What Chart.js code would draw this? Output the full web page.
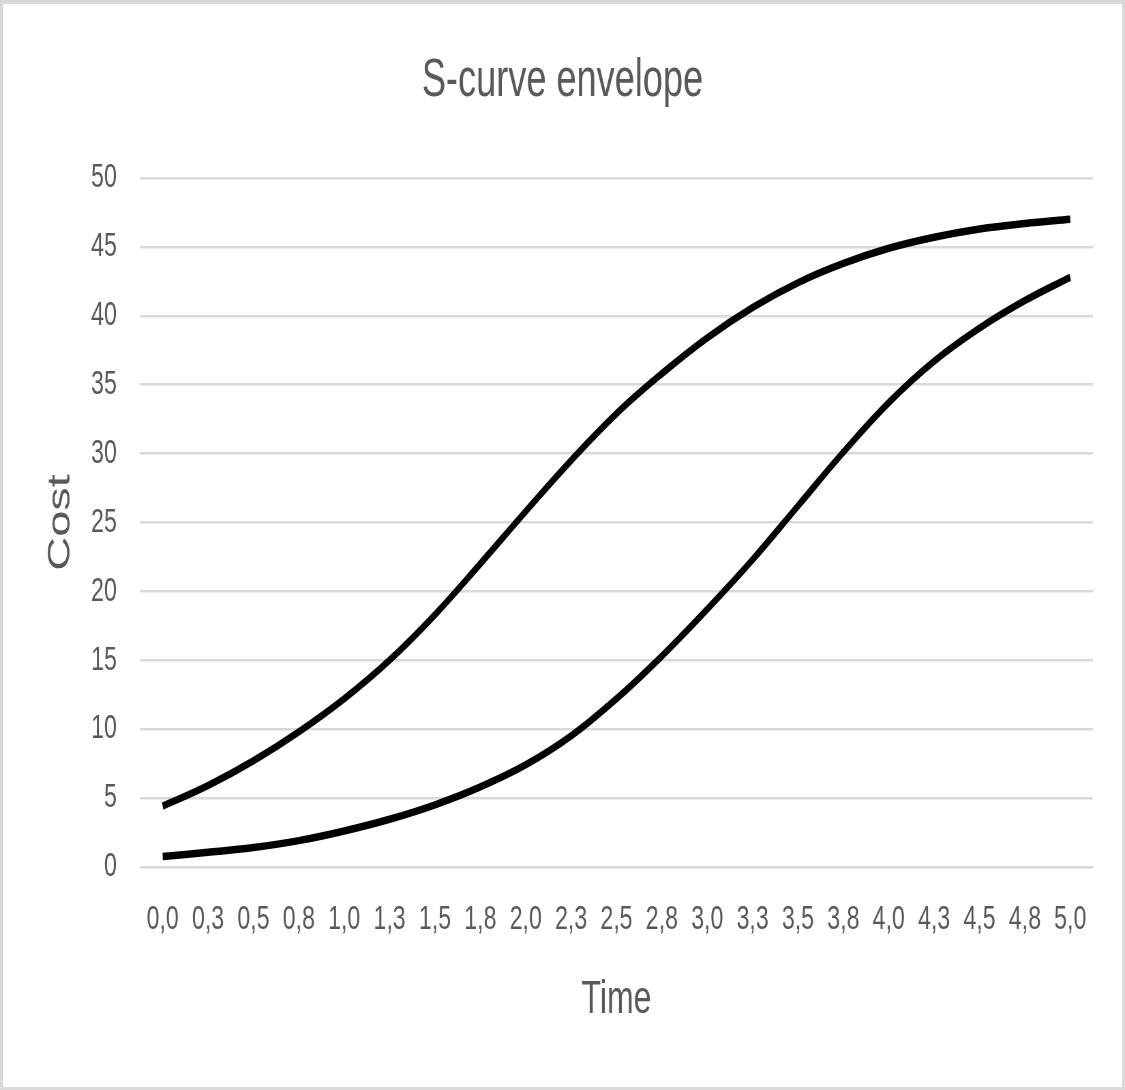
<!DOCTYPE html>
<html>
<head>
<meta charset="utf-8">
<script src="https://cdn.jsdelivr.net/npm/chart.js@4.4.1/dist/chart.umd.min.js"></script>
<style>
html,body{margin:0;padding:0;background:#fff;}
#frame{position:absolute;left:0;top:0;width:1125px;height:1090px;box-sizing:border-box;border:3px solid #d9d9d9;border-top-width:4px;background:#fff;}
</style>
</head>
<body>
<div id="frame"></div>
<canvas id="c" width="1650" height="1090" style="position:absolute;left:0;top:0;width:1125px;height:1090px;"></canvas>
<script>
const categories = ["0,0","0,3","0,5","0,8","1,0","1,3","1,5","1,8","2,0","2,3","2,5","2,8","3,0","3,3","3,5","3,8","4,0","4,3","4,5","4,8","5,0"];
const upperCost = [4.4, 5.9, 7.7, 9.8, 12.2, 15.0, 18.3, 22.0, 25.8, 29.5, 32.9, 35.8, 38.4, 40.6, 42.4, 43.8, 44.9, 45.7, 46.3, 46.7, 47.0];
const lowerCost = [0.75, 1.05, 1.4, 1.9, 2.6, 3.45, 4.5, 5.8, 7.4, 9.5, 12.2, 15.3, 18.7, 22.3, 26.2, 30.1, 33.7, 36.7, 39.1, 41.1, 42.8];
const yMin = 0, yMax = 50, yStep = 5;
const chartTitle = "S-curve envelope";
const xTitle = "Time";
const yTitle = "Cost";

const FONT = "'Liberation Sans', Arial, sans-serif";
const GRAY = "#595959";

new Chart(document.getElementById('c'), {
  type: 'line',
  data: {
    labels: categories,
    datasets: [
      { label: 'Upper', data: upperCost, borderColor: '#000', backgroundColor: '#000', borderWidth: 7.5, pointRadius: 0, tension: 0.4, fill: false },
      { label: 'Lower', data: lowerCost, borderColor: '#000', backgroundColor: '#000', borderWidth: 7.5, pointRadius: 0, tension: 0.4, fill: false }
    ]
  },
  options: {
    responsive: false,
    devicePixelRatio: 1,
    animation: false,
    layout: { padding: { left: 47, right: 47, top: 0, bottom: 62 } },
    plugins: {
      legend: { display: false },
      tooltip: { enabled: false },
      title: {
        display: true,
        text: chartTitle,
        color: GRAY,
        font: { family: FONT, size: 53, weight: 'normal' },
        padding: { top: 50, bottom: 64.4 }
      }
    },
    scales: {
      x: {
        offset: true,
        grid: { display: false, drawTicks: false },
        border: { display: false },
        ticks: { color: GRAY, font: { family: FONT, size: 34 }, padding: 32, maxRotation: 0, autoSkip: false },
        title: { display: true, text: xTitle, color: GRAY, font: { family: FONT, size: 47 }, padding: { top: 0, bottom: 0 } }
      },
      y: {
        min: yMin, max: yMax,
        ticks: { stepSize: yStep, color: GRAY, font: { family: FONT, size: 34 }, padding: 34 },
        grid: { color: '#d9d9d9', lineWidth: 2.5, drawTicks: false },
        border: { display: false },
        title: { display: true, text: yTitle, color: GRAY, font: { family: FONT, size: 47 }, padding: { top: 14, bottom: 0 } },
        afterFit: function(scale) { scale.width = 158.3; }
      }
    }
  }
});
</script>
</body>
</html>
